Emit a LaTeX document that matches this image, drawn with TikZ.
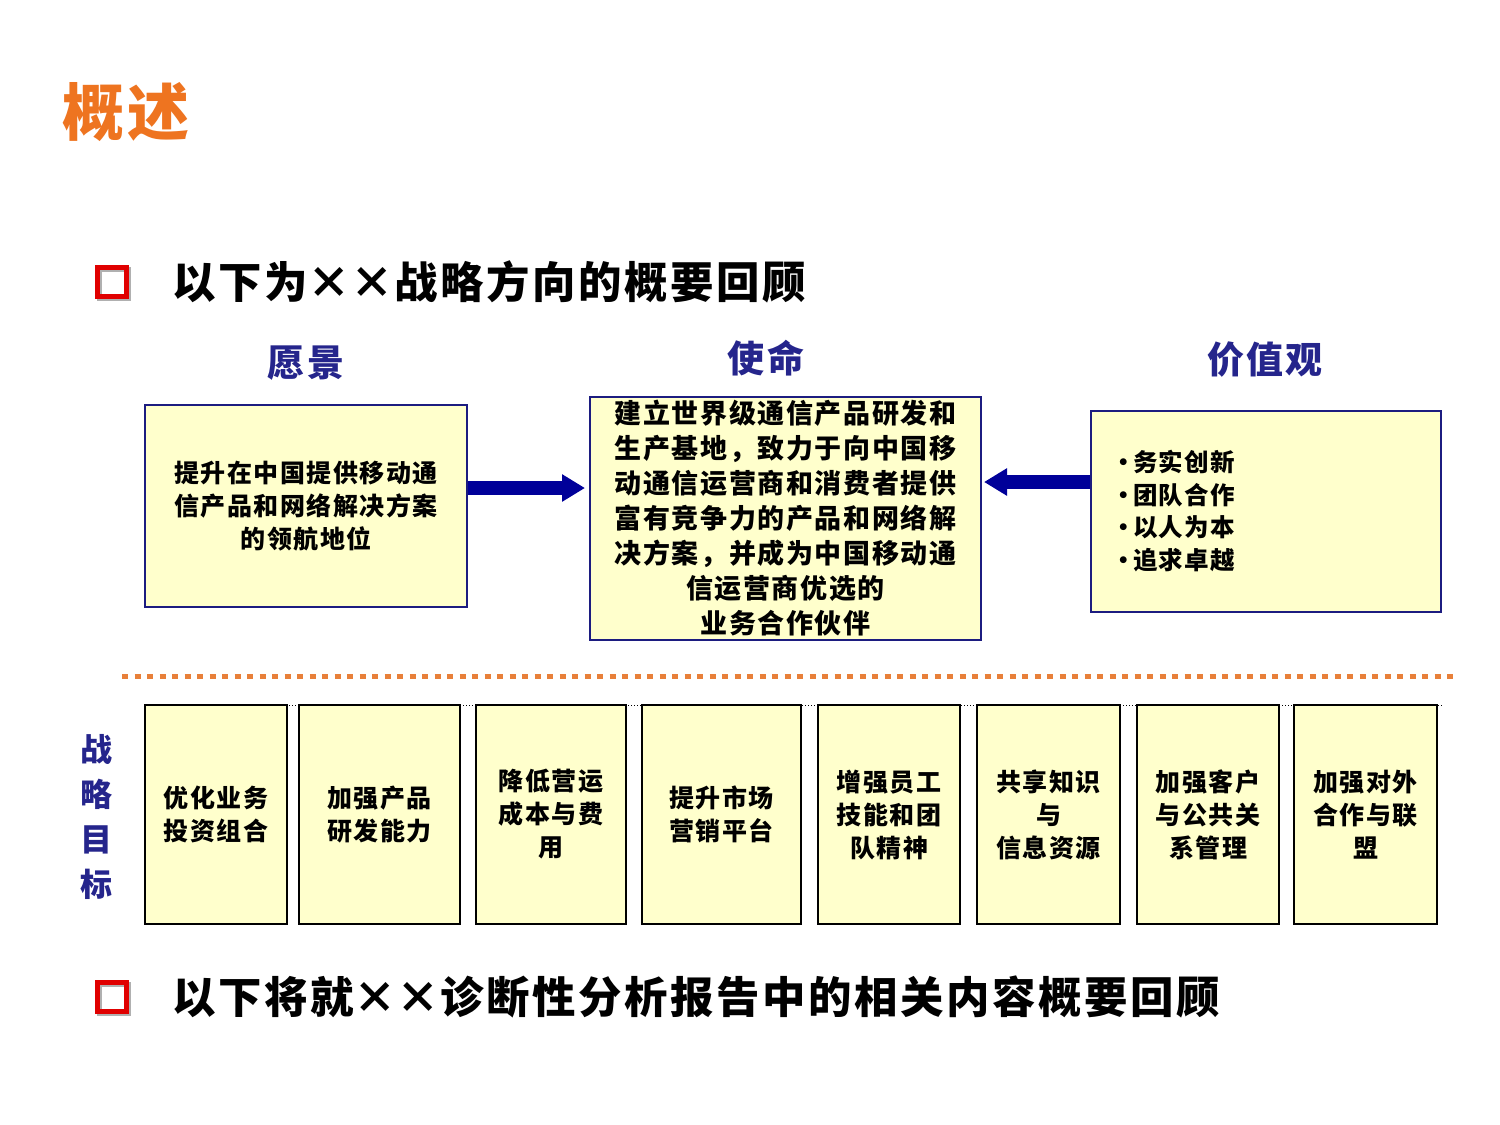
\documentclass[tikz,border=0pt]{standalone}
\usepackage{fontspec}
\setmainfont{Noto Sans CJK SC}[LetterSpace=6]
\usetikzlibrary{arrows.meta}
\definecolor{titleorange}{HTML}{EE7420}
\definecolor{headblue}{HTML}{25258C}
\definecolor{boxblue}{HTML}{1C1C80}
\definecolor{arrowblue}{HTML}{000099}
\definecolor{paleyellow}{HTML}{FFFFCC}
\definecolor{sepornage}{HTML}{E8803A}
\definecolor{bulletred}{HTML}{E00000}
\definecolor{bulletshadow}{HTML}{B0B0B0}
\newcommand\mytimes{\makebox[1em]{×}}
\newcommand\mybul{\makebox[22pt][l]{•}}
\begin{document}
\begin{tikzpicture}[x=1pt,y=-1pt,
  box/.style={draw=boxblue,line width=2pt,fill=paleyellow,inner sep=0pt,align=center},
  goal/.style={draw=black,line width=2pt,fill=paleyellow,inner sep=0pt,align=center,
    minimum height=219pt,font=\bfseries\fontsize{25}{33}\selectfont},
  head/.style={text=headblue,inner sep=0pt,font=\bfseries\fontsize{37}{40}\selectfont},
  bigarrow/.style={draw=arrowblue,line width=14pt,-{Triangle[length=23pt,width=26pt]}},
  bulletsq/.style={draw=bulletred,line width=5pt,minimum size=29pt,inner sep=0pt},
  sqshadow/.style={draw=bulletshadow,line width=5pt,minimum size=29pt,inner sep=0pt},
  maintext/.style={anchor=west,inner sep=0pt,font=\bfseries\fontsize{43.4}{48}\selectfont}]
\useasboundingbox (0,0) rectangle (1500,1125);

% title
\node[inner sep=0pt,text=titleorange,anchor=west,font=\bfseries\fontsize{62}{66}\selectfont] (title) at (62,112) {概述};

% first bullet line
\node[sqshadow] (b1s) at (114,284) {};
\node[bulletsq] (b1) at (111.5,281.5) {};
\node[maintext] (t1) at (172,282) {以下为\mytimes\mytimes 战略方向的概要回顾};

% headers
\node[head] (h1) at (306,363) {愿景};
\node[head] (h2) at (766,358) {使命};
\node[head] (h3) at (1265,360) {价值观};

% top boxes
\node[box,minimum width=322pt,minimum height=202pt,font=\bfseries\fontsize{25}{33}\selectfont] (vis) at (306,506)
  {提升在中国提供移动通\\信产品和网络解决方案\\的领航地位};
\node[box,minimum width=391pt,minimum height=243pt,font=\bfseries\fontsize{27}{35}\selectfont] (mis) at (785.5,518.5)
  {建立世界级通信产品研发和\\生产基地，致力于向中国移\\动通信运营商和消费者提供\\富有竞争力的产品和网络解\\决方案，并成为中国移动通\\信运营商优选的\\业务合作伙伴};
\node[box,minimum width=350pt,minimum height=201pt,text width=310pt,align=left,font=\bfseries\fontsize{24.5}{32.7}\selectfont] (val) at (1266,511)
  {\mybul 务实创新\\\mybul 团队合作\\\mybul 以人为本\\\mybul 追求卓越};

% arrows
\draw[bigarrow,shorten >=4pt] ([yshift=18pt]vis.east) -- ([yshift=30.5pt]mis.west);
\draw[bigarrow,shorten >=2pt] ([yshift=29pt]val.west) -- ([yshift=36.5pt]mis.east);

% separator
\coordinate (sepL) at (122,676);
\coordinate (sepR) at (1458,676);
\draw[sepornage,line width=5pt,dash pattern=on 6pt off 6.5pt] (sepL) -- (sepR);

% strategy goals label
\node[text=headblue,inner sep=0pt,align=center,font=\bfseries\fontsize{32}{44.7}\selectfont] (sg) at (96,817) {战\\略\\目\\标};

% goal boxes
\coordinate (dotL) at (145,705);
\coordinate (dotR) at (1443,705);
\draw[dotted,line width=1pt] (dotL) -- (dotR);
\node[goal,minimum width=142pt] (g1) at (216,814.5) {优化业务\\投资组合};
\node[goal,minimum width=161pt] (g2) at (379.5,814.5) {加强产品\\研发能力};
\node[goal,minimum width=150pt] (g3) at (551,814.5) {降低营运\\成本与费\\用};
\node[goal,minimum width=159pt] (g4) at (721.5,814.5) {提升市场\\营销平台};
\node[goal,minimum width=142pt] (g5) at (889,814.5) {增强员工\\技能和团\\队精神};
\node[goal,minimum width=143pt] (g6) at (1048.5,814.5) {共享知识\\与\\信息资源};
\node[goal,minimum width=142pt] (g7) at (1208,814.5) {加强客户\\与公共关\\系管理};
\node[goal,minimum width=143pt] (g8) at (1365.5,814.5) {加强对外\\合作与联\\盟};

% second bullet line
\node[sqshadow] (b2s) at (114,999) {};
\node[bulletsq] (b2) at (111.5,996.5) {};
\node[maintext] (t2) at (172,997) {以下将就\mytimes\mytimes 诊断性分析报告中的相关内容概要回顾};
\end{tikzpicture}
\end{document}
